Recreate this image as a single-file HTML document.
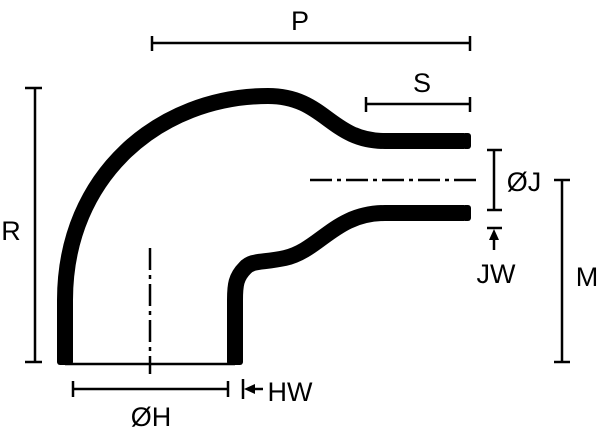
<!DOCTYPE html>
<html><head><style>
html,body{margin:0;padding:0;background:#fff;}
svg{display:block;}
text{font-family:"Liberation Sans",sans-serif;font-size:27px;fill:#000;}
</style></head><body>
<svg width="600" height="442" viewBox="0 0 600 442" xmlns="http://www.w3.org/2000/svg">
<g fill="none" stroke="#000" stroke-width="16" stroke-linejoin="round">
<path d="M65,360 L65,300 C65,175 160,96 268,96 C325,96 330,141 385,141 L464,141"/>
<path d="M464,213 L385,213 C335,213 320,250 285,258 C262,263 252,260 245,268 C236,277 235,285 235,300 L235,360"/>
</g>
<g fill="#000">
<rect x="462" y="133" width="9" height="16" rx="3"/>
<rect x="462" y="205" width="9" height="16" rx="3"/>
<rect x="57" y="355" width="16" height="10" rx="3"/>
<rect x="227" y="355" width="16" height="10" rx="3"/>
</g>
<g stroke="#000" stroke-width="2.5" fill="none">
<line x1="65" y1="364" x2="235" y2="364"/>
<line x1="152" y1="43" x2="470" y2="43"/><line x1="152" y1="36" x2="152" y2="51"/><line x1="470" y1="36" x2="470" y2="51"/>
<line x1="366" y1="104" x2="470" y2="104"/><line x1="366" y1="97" x2="366" y2="112"/><line x1="470" y1="97" x2="470" y2="112"/>
<line x1="35" y1="88" x2="35" y2="362"/><line x1="25" y1="88" x2="42" y2="88"/><line x1="25" y1="362" x2="42" y2="362"/>
<line x1="150" y1="248" x2="150" y2="374" stroke-dasharray="22,5,4,5"/>
<line x1="310" y1="180" x2="478" y2="180" stroke-dasharray="22,5,4,5"/>
<line x1="494" y1="150" x2="494" y2="210"/><line x1="487" y1="150" x2="502" y2="150"/><line x1="487" y1="210" x2="502" y2="210"/>
<line x1="487" y1="228" x2="502" y2="228"/><line x1="494" y1="236" x2="494" y2="250"/>
<line x1="562" y1="180" x2="562" y2="362"/><line x1="554" y1="180" x2="570" y2="180"/><line x1="554" y1="362" x2="570" y2="362"/>
<line x1="73" y1="389" x2="228" y2="389"/><line x1="73" y1="381" x2="73" y2="397"/><line x1="228" y1="381" x2="228" y2="397"/>
<line x1="243" y1="379" x2="243" y2="399"/><line x1="252" y1="389" x2="263" y2="389"/>
</g>
<g fill="#000">
<polygon points="494,229 489,240 499,240"/>
<polygon points="244,389 255,384 255,394"/>
</g>
<text x="300" y="30" text-anchor="middle">P</text>
<text x="422" y="92" text-anchor="middle">S</text>
<text x="11" y="240" text-anchor="middle">R</text>
<text x="524" y="191" text-anchor="middle">ØJ</text>
<text x="496" y="283" text-anchor="middle">JW</text>
<text x="587" y="286" text-anchor="middle">M</text>
<text x="151" y="426" text-anchor="middle">ØH</text>
<text x="290" y="401" text-anchor="middle">HW</text>
</svg>
</body></html>
